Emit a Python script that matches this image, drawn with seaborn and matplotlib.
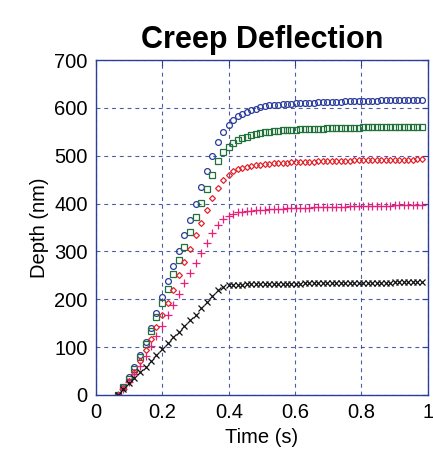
import matplotlib
matplotlib.use("Agg")
import matplotlib.pyplot as plt
import pandas as pd
import seaborn as sns

# time samples (s): loading ramp then hold
t_load = [0.065, 0.082, 0.099, 0.115, 0.132, 0.149, 0.166, 0.182, 0.199, 0.216,
          0.233, 0.250, 0.266, 0.283, 0.300, 0.317, 0.333, 0.350, 0.367, 0.384, 0.400]
t_hold = [0.414, 0.427, 0.441, 0.454, 0.468, 0.481, 0.495, 0.508, 0.522, 0.535,
          0.549, 0.562, 0.576, 0.589, 0.603, 0.616, 0.630, 0.643, 0.657, 0.670,
          0.684, 0.697, 0.711, 0.724, 0.738, 0.751, 0.765, 0.778, 0.792, 0.805,
          0.819, 0.832, 0.846, 0.859, 0.873, 0.886, 0.900, 0.913, 0.927, 0.940,
          0.954, 0.967, 0.981]
time = t_load + t_hold

# depth (nm) per run
depth_blue = [0, 17, 37, 58, 84, 111, 139, 171, 204, 238, 270, 301, 334, 366, 400, 434, 467, 499, 528, 550, 564,
              575, 582, 587, 591, 595, 598, 601, 603, 605, 606, 607, 608, 609, 609, 610, 610, 611, 611, 611, 612,
              612, 612, 613, 613, 613, 614, 614, 614, 614, 615, 615, 615, 615, 616, 616, 616, 616, 616, 617, 617,
              617, 617, 617]
depth_green = [0, 16, 34, 55, 80, 106, 134, 163, 193, 222, 252, 281, 310, 341, 371, 401, 431, 460, 488, 507, 519,
               526, 532, 537, 540, 543, 546, 548, 549, 550, 551, 552, 553, 553, 554, 554, 555, 555, 555, 556, 556,
               556, 557, 557, 557, 557, 558, 558, 558, 558, 559, 559, 559, 559, 559, 560, 560, 560, 560, 560, 561,
               561, 561, 561]
depth_red = [0, 14, 30, 48, 70, 93, 117, 142, 167, 193, 220, 250, 278, 305, 334, 360, 387, 411, 433, 449, 460,
             467, 472, 475, 477, 478, 480, 481, 482, 483, 484, 484, 485, 485, 486, 486, 486, 487, 487, 487, 488,
             488, 488, 488, 489, 489, 489, 489, 490, 490, 490, 490, 490, 491, 491, 491, 491, 492, 492, 492, 492,
             492, 493, 493]
depth_pink = [0, 13, 27, 43, 61, 81, 102, 123, 145, 166, 188, 211, 234, 254, 275, 296, 317, 338, 355, 367, 375,
              379, 382, 383, 384, 385, 386, 387, 387, 388, 388, 389, 389, 390, 390, 390, 391, 391, 391, 392, 392,
              392, 392, 393, 393, 393, 393, 394, 394, 394, 394, 394, 395, 395, 395, 395, 395, 396, 396, 396, 396,
              396, 397, 397]
depth_black = [0, 12, 25, 36, 48, 59, 71, 84, 96, 109, 120, 132, 144, 156, 168, 181, 194, 207, 219, 226, 229,
               230, 230, 230, 231, 231, 231, 231, 231, 231, 232, 232, 232, 232, 232, 232, 232, 233, 233, 233, 233,
               233, 233, 233, 233, 233, 234, 234, 234, 234, 234, 234, 234, 234, 234, 234, 234, 235, 235, 235, 235,
               235, 235, 235]

x_ticks = [0, 0.2, 0.4, 0.6, 0.8, 1]
x_tick_labels = ["0", "0.2", "0.4", "0.6", "0.8", "1"]
y_ticks = [0, 100, 200, 300, 400, 500, 600, 700]

FRAME = "#2b3f99"
series = [
    (depth_blue, "o", "#2a3c9c", 4.2),
    (depth_green, "s", "#22703a", 4.6),
    (depth_red, "D", "#e0242c", 3.0),
    (depth_pink, "+", "#e8207a", 5.5),
    (depth_black, "x", "#111111", 4.5),
]

sns.set_style("white")
plt.rcParams["font.family"] = ["Liberation Sans", "DejaVu Sans"]
plt.rcParams["text.color"] = "black"
plt.rcParams["axes.labelcolor"] = "black"

fig = plt.figure(figsize=(4.33, 4.69), dpi=100)
ax = fig.add_axes([0.222, 0.158, 0.766, 0.714])

for values, marker, color, ms in series:
    df = pd.DataFrame({"Time": time, "Depth": values})
    sns.lineplot(data=df, x="Time", y="Depth", estimator=None, ax=ax,
                 linestyle="none", marker=marker, markersize=ms,
                 markerfacecolor="none", markeredgecolor=color, markeredgewidth=0.9,
                 color=color)

ax.set_xlim(0, 1)
ax.set_ylim(0, 700)
ax.set_xticks(x_ticks)
ax.set_xticklabels(x_tick_labels)
ax.set_yticks(y_ticks)
ax.grid(True, color=FRAME, linestyle=(0, (3.5, 3.5)), linewidth=0.8, alpha=0.85)
for s in ax.spines.values():
    s.set_color(FRAME)
    s.set_linewidth(1.0)
ax.tick_params(direction="in", length=4, color=FRAME, labelsize=14.5, labelcolor="black",
               top=True, right=True, pad=6)
ax.set_xlabel("Time (s)", fontsize=14.5, color="black")
ax.set_ylabel("Depth (nm)", fontsize=14.5, color="black")
ax.set_title("Creep Deflection", fontsize=22, fontweight="bold", pad=9, color="black")

fig.savefig("out.png", dpi=100)
